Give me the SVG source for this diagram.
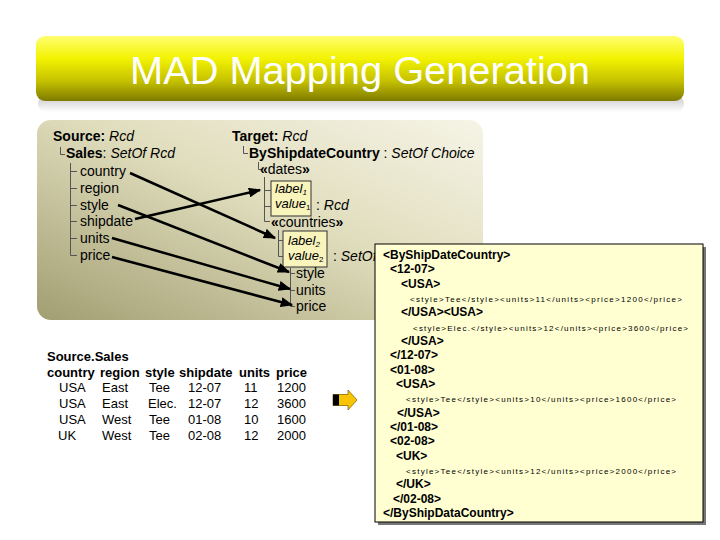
<svg xmlns="http://www.w3.org/2000/svg" width="720" height="540" viewBox="0 0 720 540">
<defs>
<linearGradient id="titleGrad" x1="0" y1="0" x2="0" y2="1">
<stop offset="0" stop-color="#ffff70"/>
<stop offset="0.35" stop-color="#f2f200"/>
<stop offset="0.7" stop-color="#c4c000"/>
<stop offset="1" stop-color="#7e7a00"/>
</linearGradient>
<linearGradient id="shadowGrad" x1="0" y1="0" x2="0" y2="1">
<stop offset="0" stop-color="#c8c8c8"/>
<stop offset="1" stop-color="#ffffff"/>
</linearGradient>
<linearGradient id="panelGrad" x1="1" y1="0" x2="0" y2="1">
<stop offset="0" stop-color="#f6f4e6"/>
<stop offset="0.45" stop-color="#e0ddbd"/>
<stop offset="1" stop-color="#a29e72"/>
</linearGradient>
<clipPath id="panelClip">
<rect x="37" y="120" width="338" height="200"/>
</clipPath>
<marker id="ah" viewBox="0 0 10 8" refX="9" refY="4" markerWidth="5" markerHeight="4" orient="auto" markerUnits="strokeWidth">
<path d="M0,0 L10,4 L0,8 z" fill="#000"/>
</marker>
<style>
.t{font-family:"Liberation Sans",Arial,sans-serif;font-size:14px;fill:#000}
.lv{font-family:"Liberation Sans",Arial,sans-serif;font-size:13px;fill:#000}
.b{font-weight:bold}
.i{font-style:italic}
.tl{fill:none;stroke:#555;stroke-width:1}
.conn{stroke:#000;stroke-width:2.5;fill:none;marker-end:url(#ah)}
.tb{font-family:"Liberation Sans",Arial,sans-serif;font-size:13px;fill:#000}
.xb{font-family:"Liberation Sans",Arial,sans-serif;font-size:12px;font-weight:bold;fill:#000}
.xs{font-family:"Liberation Sans",Arial,sans-serif;font-size:8px;fill:#000}
.lbox{fill:#f8f4bc;stroke:#333;stroke-width:1}
</style>
</defs>
<rect width="720" height="540" fill="#ffffff"/>

<g id="title">
<rect x="38" y="96" width="646" height="16" rx="8" fill="url(#shadowGrad)"/>
<rect x="36" y="36" width="648" height="65" rx="9" fill="url(#titleGrad)"/>
<text x="130" y="84" font-family="'Liberation Sans',Arial,sans-serif" font-size="38" fill="#ffffff" textLength="460" lengthAdjust="spacingAndGlyphs">MAD Mapping Generation</text>
</g>

<g id="panel">
<rect x="37" y="120" width="446" height="200" rx="14" fill="url(#panelGrad)"/>
</g>

<g id="source-tree">
<text class="t" x="53" y="141"><tspan class="b">Source:</tspan> <tspan class="i">Rcd</tspan></text>
<path class="tl" d="M60.5,147 V154.5 H65"/>
<text class="t" x="66" y="158"><tspan class="b">Sales</tspan>: <tspan class="i">SetOf Rcd</tspan></text>
<path class="tl" d="M70.5,163 V255.5 M70.5,171.5 H77 M70.5,188.5 H77 M70.5,205.5 H77 M70.5,221.5 H77 M70.5,238.5 H77 M70.5,255.5 H77"/>
<text class="t" x="80" y="176">country</text>
<text class="t" x="80" y="193">region</text>
<text class="t" x="80" y="210">style</text>
<text class="t" x="80" y="226">shipdate</text>
<text class="t" x="80" y="243">units</text>
<text class="t" x="80" y="260">price</text>
</g>

<g id="target-tree">
<text class="t" x="232" y="141"><tspan class="b">Target:</tspan> <tspan class="i">Rcd</tspan></text>
<path class="tl" d="M243.5,146 V153.5 H248"/>
<text class="t" x="249" y="158"><tspan class="b">ByShipdateCountry</tspan> : <tspan class="i">SetOf Choice</tspan></text>
<path class="tl" d="M258.5,162 V169.5 H262"/>
<text class="t" x="260" y="174"><tspan class="b">«</tspan>dates<tspan class="b">»</tspan></text>
<rect class="lbox" x="271" y="181" width="40" height="35"/>
<path class="tl" d="M264.5,177 V221.5 M264.5,190.5 H271 M264.5,206.5 H271 M264.5,221.5 H270"/>
<text class="lv i" x="275" y="193">label<tspan font-size="8" dy="2">1</tspan></text>
<text class="lv" x="275" y="208"><tspan class="i">value</tspan><tspan font-size="8" dy="2">1</tspan></text>
<text class="t" x="316" y="210">: <tspan class="i">Rcd</tspan></text>
<text class="t" x="271" y="227"><tspan class="b">«</tspan>countries<tspan class="b">»</tspan></text>
<rect class="lbox" x="283" y="231" width="44" height="36"/>
<path class="tl" d="M278.5,230 V256.5 M278.5,240.5 H283 M278.5,256.5 H283"/>
<text class="lv i" x="288" y="245">label<tspan font-size="8" dy="2">2</tspan></text>
<text class="lv" x="288" y="260"><tspan class="i">value</tspan><tspan font-size="8" dy="2">2</tspan></text>
<text class="t" x="333" y="261" clip-path="url(#panelClip)">: <tspan class="i">SetOf</tspan></text>
<path class="tl" d="M290.5,268 V306.5 M290.5,273.5 H295 M290.5,290.5 H295 M290.5,306.5 H295"/>
<text class="t" x="296" y="278">style</text>
<text class="t" x="296" y="295">units</text>
<text class="t" x="296" y="311">price</text>
</g>

<g id="connectors">
<line class="conn" x1="130" y1="173" x2="275" y2="238"/>
<line class="conn" x1="135" y1="219" x2="260" y2="190"/>
<line class="conn" x1="118" y1="205" x2="289" y2="272"/>
<line class="conn" x1="112" y1="238" x2="290" y2="289"/>
<line class="conn" x1="112" y1="257" x2="292" y2="305"/>
</g>

<g id="table">
<text class="tb b" x="47" y="361" font-size="14">Source.Sales</text>
<text class="tb b" y="377"><tspan x="47">country</tspan><tspan x="100">region</tspan><tspan x="145">style</tspan><tspan x="179">shipdate</tspan><tspan x="239">units</tspan><tspan x="276">price</tspan></text>
<text class="tb" y="392"><tspan x="59">USA</tspan><tspan x="102">East</tspan><tspan x="149">Tee</tspan><tspan x="188">12-07</tspan><tspan x="244">11</tspan><tspan x="277">1200</tspan></text>
<text class="tb" y="408"><tspan x="59">USA</tspan><tspan x="102">East</tspan><tspan x="148">Elec.</tspan><tspan x="188">12-07</tspan><tspan x="244">12</tspan><tspan x="277">3600</tspan></text>
<text class="tb" y="424"><tspan x="59">USA</tspan><tspan x="102">West</tspan><tspan x="149">Tee</tspan><tspan x="188">01-08</tspan><tspan x="244">10</tspan><tspan x="277">1600</tspan></text>
<text class="tb" y="440"><tspan x="58">UK</tspan><tspan x="102">West</tspan><tspan x="149">Tee</tspan><tspan x="188">02-08</tspan><tspan x="244">12</tspan><tspan x="277">2000</tspan></text>
</g>

<g id="arrow-icon">
<polygon points="333,394.5 348,394.5 348,390 357,400 348,410 348,405.5 333,405.5" fill="#f7c400" stroke="#8a6a00" stroke-width="0.8"/>
<rect x="333" y="394.5" width="6" height="11" fill="#000"/>
</g>

<g id="xml-box">
<rect x="378" y="247" width="328" height="278" fill="#777"/>
<rect x="375" y="244" width="328" height="278" fill="#ffffd2" stroke="#000" stroke-width="1"/>
<text class="xb" x="383" y="259">&lt;ByShipDateCountry&gt;</text>
<text class="xb" x="390" y="273.3">&lt;12-07&gt;</text>
<text class="xb" x="401" y="287.7">&lt;USA&gt;</text>
<text class="xs" x="410" y="302" textLength="272" lengthAdjust="spacing">&lt;style&gt;Tee&lt;/style&gt;&lt;units&gt;11&lt;/units&gt;&lt;price&gt;1200&lt;/price&gt;</text>
<text class="xb" x="401" y="316.3">&lt;/USA&gt;&lt;USA&gt;</text>
<text class="xs" x="413" y="330.7" textLength="275" lengthAdjust="spacing">&lt;style&gt;Elec.&lt;/style&gt;&lt;units&gt;12&lt;/units&gt;&lt;price&gt;3600&lt;/price&gt;</text>
<text class="xb" x="401" y="345">&lt;/USA&gt;</text>
<text class="xb" x="390" y="359.3">&lt;/12-07&gt;</text>
<text class="xb" x="390" y="373.7">&lt;01-08&gt;</text>
<text class="xb" x="396" y="388">&lt;USA&gt;</text>
<text class="xs" x="406" y="402.3" textLength="270" lengthAdjust="spacing">&lt;style&gt;Tee&lt;/style&gt;&lt;units&gt;10&lt;/units&gt;&lt;price&gt;1600&lt;/price&gt;</text>
<text class="xb" x="397" y="416.7">&lt;/USA&gt;</text>
<text class="xb" x="390" y="431">&lt;/01-08&gt;</text>
<text class="xb" x="390" y="445.3">&lt;02-08&gt;</text>
<text class="xb" x="396" y="459.7">&lt;UK&gt;</text>
<text class="xs" x="406" y="474" textLength="270" lengthAdjust="spacing">&lt;style&gt;Tee&lt;/style&gt;&lt;units&gt;12&lt;/units&gt;&lt;price&gt;2000&lt;/price&gt;</text>
<text class="xb" x="396" y="488.3">&lt;/UK&gt;</text>
<text class="xb" x="393" y="502.7">&lt;/02-08&gt;</text>
<text class="xb" x="383" y="517">&lt;/ByShipDataCountry&gt;</text>
</g>
</svg>
